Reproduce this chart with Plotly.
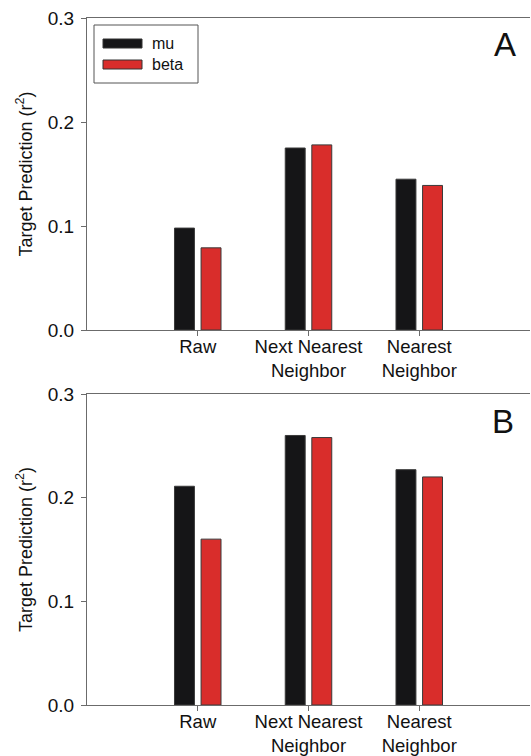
import plotly.graph_objects as go

categories = ["Raw", "Next Nearest<br>Neighbor", "Nearest<br>Neighbor"]
mu_A = [0.098, 0.175, 0.145]
beta_A = [0.079, 0.178, 0.139]
mu_B = [0.211, 0.260, 0.227]
beta_B = [0.160, 0.258, 0.220]
series_names = ["mu", "beta"]
y_ticks = [0.0, 0.1, 0.2, 0.3]
y_ticklabels = ["0.0", "0.1", "0.2", "0.3"]
panel_labels = ["A", "B"]

W, H = 531, 756
ML, MR, MT, MB = 87, 1, 18, 51
PW, PH = W - ML - MR, H - MT - MB


def px2x(px):
    return (px - ML) / PW


def px2y(py):
    return (H - MB - py) / PH


BLACK = "#151517"
RED = "#d92d2b"
AXIS = "#6b6b6b"
FONT = "Liberation Sans, Arial, sans-serif"

fig = go.Figure()
xs = list(range(len(categories)))
for vals, name, color, ax in [
    (mu_A, series_names[0], BLACK, "1"),
    (beta_A, series_names[1], RED, "1"),
    (mu_B, series_names[0], BLACK, "2"),
    (beta_B, series_names[1], RED, "2"),
]:
    fig.add_trace(go.Bar(
        x=xs, y=vals, name=name,
        marker=dict(color=color, line=dict(color="#3a3a3a", width=1)),
        xaxis="x" if ax == "1" else "x2",
        yaxis="y" if ax == "1" else "y2",
        showlegend=False,
    ))

ax_common = dict(
    range=[-1, 3], tickmode="array", tickvals=xs, ticktext=categories,
    showline=True, linecolor=AXIS, linewidth=1, mirror=True, automargin=False,
    ticks="outside", ticklen=5, tickcolor=AXIS, showgrid=False, zeroline=False,
    ticklabelstandoff=-5,
    tickfont=dict(size=18.5, color="#111", family=FONT),
)
ay_common = dict(
    range=[0, 0.3], tickmode="array", tickvals=y_ticks, ticktext=y_ticklabels,
    showline=True, linecolor=AXIS, linewidth=1, automargin=False,
    ticks="outside", ticklen=5, tickcolor=AXIS, showgrid=False, zeroline=False,
    ticklabelstandoff=3,
    tickfont=dict(size=19, color="#111", family=FONT),
    title=dict(text="Target Prediction (r<sup>2</sup>)",
               font=dict(size=18, color="#111", family=FONT), standoff=10),
)

yA0, yA1 = px2y(330), 1.0
yB0, yB1 = 0.0, px2y(394)

fig.update_layout(
    width=W, height=H,
    margin=dict(l=ML, r=MR, t=MT, b=MB),
    paper_bgcolor="white", plot_bgcolor="white",
    barmode="group", bargap=0.52, bargroupgap=0.25,
    showlegend=False,
    font=dict(family=FONT, color="#111"),
    xaxis=dict(domain=[0, 1], anchor="y", **ax_common),
    yaxis=dict(domain=[yA0, yA1], anchor="x", **ay_common),
    xaxis2=dict(domain=[0, 1], anchor="y2", **ax_common),
    yaxis2=dict(domain=[yB0, yB1], anchor="x2", **ay_common),
)

# legend box (panel A)
shapes = [
    dict(type="rect", xref="paper", yref="paper",
         x0=px2x(94), x1=px2x(198), y0=px2y(83), y1=px2y(25),
         line=dict(color="#555", width=1), fillcolor="white", layer="above"),
    dict(type="rect", xref="paper", yref="paper",
         x0=px2x(103), x1=px2x(142), y0=px2y(48), y1=px2y(39),
         line=dict(color="#333", width=1), fillcolor=BLACK, layer="above"),
    dict(type="rect", xref="paper", yref="paper",
         x0=px2x(103), x1=px2x(142), y0=px2y(69), y1=px2y(60),
         line=dict(color="#333", width=1), fillcolor=RED, layer="above"),
]
annotations = [
    dict(text=series_names[0], xref="paper", yref="paper", x=px2x(150), y=px2y(43.5),
         xanchor="left", yanchor="middle", showarrow=False,
         font=dict(size=16, color="#111", family=FONT)),
    dict(text=series_names[1], xref="paper", yref="paper", x=px2x(150), y=px2y(64.5),
         xanchor="left", yanchor="middle", showarrow=False,
         font=dict(size=16, color="#111", family=FONT)),
    dict(text=panel_labels[0], xref="paper", yref="paper", x=px2x(505), y=px2y(45),
         xanchor="center", yanchor="middle", showarrow=False,
         font=dict(size=33, color="#111", family=FONT)),
    dict(text=panel_labels[1], xref="paper", yref="paper", x=px2x(503), y=px2y(421),
         xanchor="center", yanchor="middle", showarrow=False,
         font=dict(size=33, color="#111", family=FONT)),
]
fig.update_layout(shapes=shapes, annotations=annotations)

fig.write_html("out.html", config={"displayModeBar": False},
               post_script="document.body.style.margin='0';document.body.style.overflow='hidden';")
